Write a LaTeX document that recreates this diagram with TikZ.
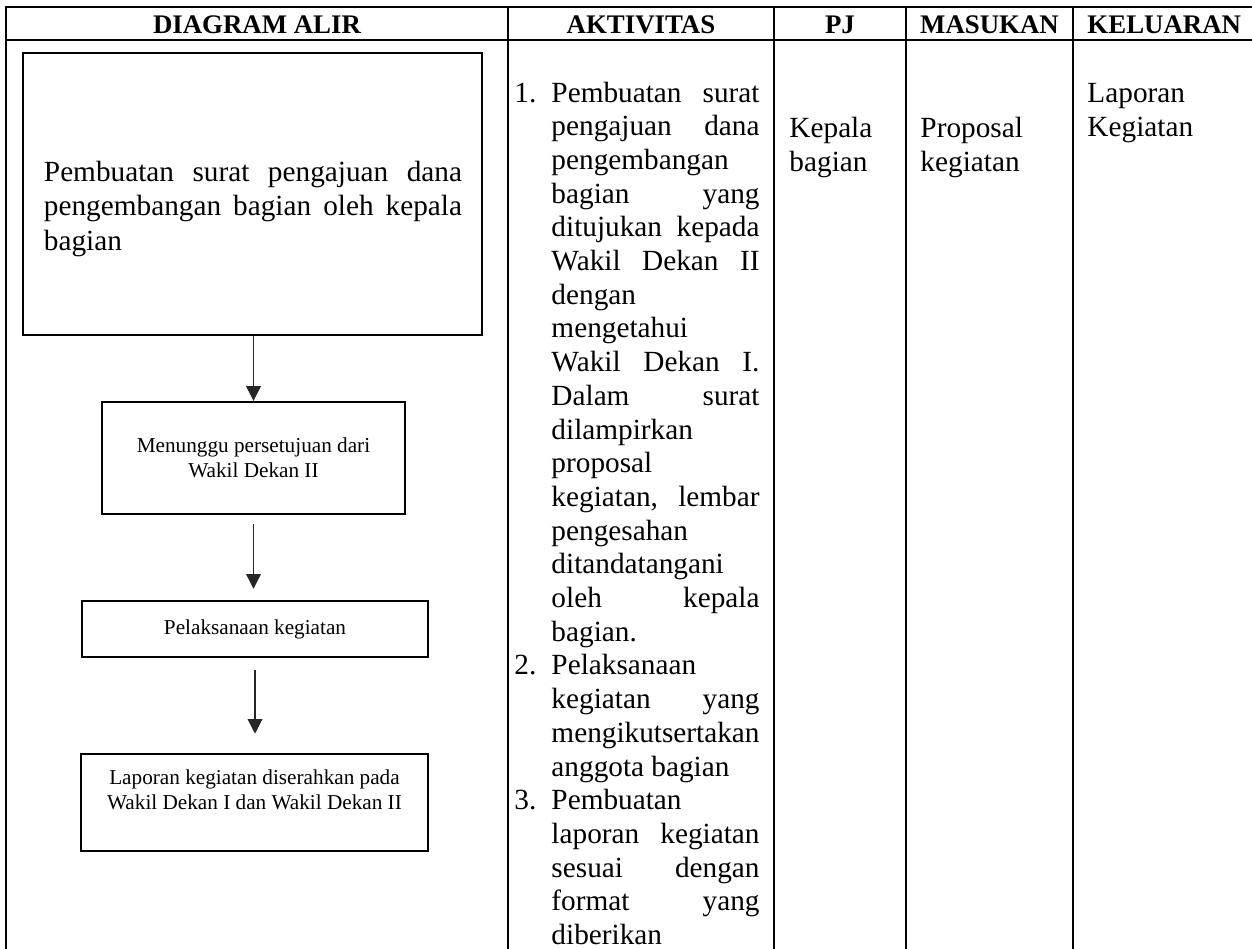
\documentclass[tikz,border=0pt]{standalone}
\usepackage{fontspec}
\setmainfont{Liberation Serif}
\usepackage{tikz}
\usetikzlibrary{arrows.meta,positioning}

\begin{document}
\begin{tikzpicture}[x=0.41pt, y=-0.41pt,
    grid/.style={line width=0.8pt},
    flow/.style={draw, line width=1pt, inner sep=0pt, align=center,
        font=\fontsize{8.7}{10.2}\selectfont},
    head/.style={anchor=base, inner sep=0pt, font=\fontsize{11}{13}\selectfont\bfseries},
    cell/.style={anchor=base west, inner sep=0pt, font=\fontsize{12}{13.8}\selectfont},
    flowarrow/.style={line width=0.5pt, black!85, -{Triangle[width=6pt,length=6pt]}}]

\useasboundingbox (0,0) rectangle (1252,949);

% table
\draw[grid] (6,949) -- (6,7) -- (1252,7);
\draw[grid] (6,40) -- (1252,40);
\foreach \x in {508,774,906,1073}
    \draw[grid] (\x,7) -- (\x,949);

\node[head] (h1) at (257,34) {DIAGRAM ALIR};
\node[head] (h2) at (641,34) {AKTIVITAS};
\node[head] (h3) at (840,34) {PJ};
\node[head] (h4) at (989.5,34) {MASUKAN};
\node[head, anchor=base west] (h5) at (1087,34) {KELUARAN};

% flow
\node[flow, minimum width=188.2pt, minimum height=115.6pt] (b1) at (252.5,194) {};
\node[align=left, inner sep=0pt, font=\fontsize{12}{14}\selectfont] (b1t) at (253,209)
    {\makebox[171.4pt][s]{Pembuatan surat pengajuan dana}\\
     \makebox[171.4pt][s]{pengembangan bagian oleh kepala}\\
     bagian};
\node[flow, minimum width=124.2pt, minimum height=45.9pt] (b2) at (253.5,458)
    {Menunggu persetujuan dari\\Wakil Dekan II};
\node[flow, minimum width=141.9pt, minimum height=23pt] (b3) at (255,629)
    {Pelaksanaan kegiatan};
\node[flow, minimum width=142.3pt, minimum height=39.8pt] (b4) at (254.5,802.5)
    {Laporan kegiatan diserahkan pada\\Wakil Dekan I dan Wakil Dekan II\\\mbox{}};

\draw[flowarrow] (b2.north |- b1.south) -- (b2.north);
\draw[flowarrow, shorten <=3.7pt, shorten >=4.5pt] (b2.south) -- (b2.south |- b3.north);
\draw[flowarrow, shorten <=4.9pt, shorten >=7.8pt] (b3.south) -- (b3.south |- b4.north);

% aktivitas
\foreach \n/\i in {1/1,2/18,3/22}
    \node[cell] (num\n) at (514,{102+(\i-1)*33.7}) {\n.};

\foreach \m/\t [count=\i] in {s/Pembuatan surat, s/pengajuan dana, l/pengembangan,
    s/bagian yang, s/ditujukan kepada, s/Wakil Dekan II, l/dengan, l/mengetahui,
    s/Wakil Dekan I., s/Dalam surat, l/dilampirkan, l/proposal, s/{kegiatan, lembar},
    l/pengesahan, l/ditandatangani, s/oleh kepala, l/bagian., l/Pelaksanaan,
    s/kegiatan yang, l/mengikutsertakan, l/anggota bagian, l/Pembuatan,
    s/laporan kegiatan, s/sesuai dengan, s/format yang, l/diberikan}
    \node[cell] (akt\i) at (551,{102+(\i-1)*33.7}) {\makebox[85.3pt][\m]{\t}};

% pj, masukan, keluaran
\foreach \t/\x/\y [count=\i] in {Kepala/789/137, bagian/789/171, Proposal/920/137,
    kegiatan/920/171, Laporan/1087/102, Kegiatan/1087/136}
    \node[cell] (c\i) at (\x,\y) {\t};

\end{tikzpicture}
\end{document}
